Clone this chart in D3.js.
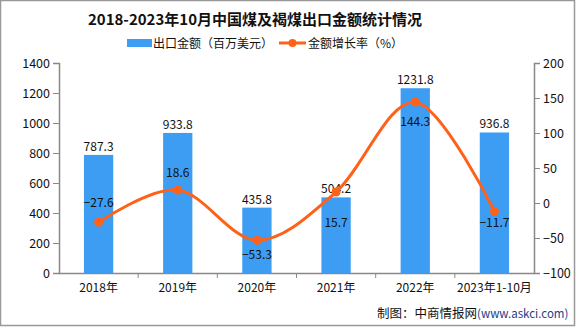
<!DOCTYPE html>
<html><head><meta charset="utf-8">
<script src="https://cdn.jsdelivr.net/npm/d3@7/dist/d3.min.js"></script>
<style>body{margin:0;background:#fff}svg{display:block}</style>
</head><body><svg id="c" width="576" height="327"></svg>
<script>
const categories = ["2018年","2019年","2020年","2021年","2022年","2023年1-10月"];
const exportValues = [787.3, 933.8, 435.8, 504.2, 1231.8, 936.8];
const growthRates = [-27.6, 18.6, -53.3, 15.7, 144.3, -11.7];
const leftTicks = [0,200,400,600,800,1000,1200,1400];
const rightTicks = [-100,-50,0,50,100,150,200];
const growthLabelSide = ["above","above","below","below","below","below"];

const svg = d3.select("#c");
const font = "'Noto Sans CJK SC','Noto Sans',sans-serif";
const W=576,H=327;
const m={l:59,r:534,t:63,b:273};
const blue="#3D9DF2", orange="#FF6119", axisC="#888";

svg.append("rect").attr("x",0.5).attr("y",0.5).attr("width",574).attr("height",325)
  .attr("fill","#fff").attr("stroke","#999").attr("stroke-width",1.5);

const x=d3.scaleBand().domain(categories).range([m.l,m.r]).paddingInner(0.63).paddingOuter(0.315);
const xb=d3.scaleBand().domain(categories).range([m.l,m.r]);
const yL=d3.scaleLinear().domain([0,1400]).range([m.b,m.t]);
const yR=d3.scaleLinear().domain([-100,200]).range([m.b,m.t]);

// title
svg.append("text").attr("x",255).attr("y",25).attr("text-anchor","middle")
  .attr("font-family",font).attr("font-weight","bold").attr("font-size",15).attr("fill","#111")
  .text("2018-2023年10月中国煤及褐煤出口金额统计情况");

// legend
svg.append("rect").attr("x",127).attr("y",39).attr("width",25).attr("height",8).attr("fill",blue);
svg.append("text").attr("x",153).attr("y",47.5).attr("font-family",font).attr("font-size",12).attr("fill","#111").text("出口金额（百万美元）");
svg.append("line").attr("x1",279).attr("x2",306).attr("y1",43).attr("y2",43).attr("stroke",orange).attr("stroke-width",3);
svg.append("circle").attr("cx",292.5).attr("cy",43).attr("r",4).attr("fill",orange);
svg.append("text").attr("x",308).attr("y",47.5).attr("font-family",font).attr("font-size",12).attr("fill","#111").text("金额增长率（%）");

// axes
const gL=svg.append("g").attr("transform",`translate(${m.l},0)`)
  .call(d3.axisLeft(yL).tickValues(leftTicks).tickSize(6).tickPadding(3).tickFormat(d3.format("d")));
const gR=svg.append("g").attr("transform",`translate(${m.r},0)`)
  .call(d3.axisRight(yR).tickValues(rightTicks).tickSize(6).tickPadding(3).tickFormat(d=>d<0?"−"+Math.abs(d):d));
const gX=svg.append("g").attr("transform",`translate(0,${m.b})`)
  .call(d3.axisBottom(xb).tickSize(0).tickPadding(10));
// band boundary ticks
svg.append("g").selectAll("line").data(categories.slice(1)).join("line")
  .attr("x1",d=>xb(d)).attr("x2",d=>xb(d)).attr("y1",m.b).attr("y2",m.b+5).attr("stroke",axisC);
[gL,gR,gX].forEach(g=>{
  g.selectAll("path.domain").attr("stroke",axisC).attr("stroke-width",1.5);
  g.selectAll(".tick line").attr("stroke",axisC);
  g.selectAll("text").attr("font-family",font).attr("font-size",12).attr("fill","#111");
});
gL.selectAll(".tick text").attr("font-size",12.5);
gR.selectAll(".tick text").attr("font-size",12.5);

// bars
svg.append("g").selectAll("rect").data(exportValues).join("rect")
  .attr("x",(d,i)=>x(categories[i])).attr("width",x.bandwidth())
  .attr("y",d=>yL(d)).attr("height",d=>m.b-yL(d)).attr("fill",blue);
svg.append("g").selectAll("text").data(exportValues).join("text")
  .attr("x",(d,i)=>x(categories[i])+x.bandwidth()/2).attr("y",d=>yL(d)-4)
  .attr("text-anchor","middle").attr("font-family",font).attr("font-size",12).attr("fill","#111")
  .text(d=>d.toFixed(1));

// line
const cx=i=>xb(categories[i])+xb.bandwidth()/2;
const line=d3.line().x((d,i)=>cx(i)).y(d=>yR(d)).curve(d3.curveCardinal.tension(0));
svg.append("path").datum(growthRates).attr("d",line).attr("fill","none")
  .attr("stroke",orange).attr("stroke-width",3);
svg.append("g").selectAll("circle").data(growthRates).join("circle")
  .attr("cx",(d,i)=>cx(i)).attr("cy",d=>yR(d)).attr("r",4.5).attr("fill",orange);
const offs=[-15,-13,19,35,24,16];
svg.append("g").selectAll("text").data(growthRates).join("text")
  .attr("x",(d,i)=>cx(i)).attr("y",(d,i)=>yR(d)+offs[i])
  .attr("text-anchor","middle").attr("font-family",font).attr("font-size",12).attr("fill","#111")
  .text(d=>d<0?"−"+Math.abs(d).toFixed(1):d.toFixed(1));

// source
const s=svg.append("text").attr("x",377).attr("y",318).attr("font-family",font).attr("font-size",12.5).attr("fill","#111");
s.append("tspan").text("制图：中商情报网");
s.append("tspan").attr("fill","#1F3C88").attr("font-size",11.5).text("(www.askci.com)");
</script></body></html>
